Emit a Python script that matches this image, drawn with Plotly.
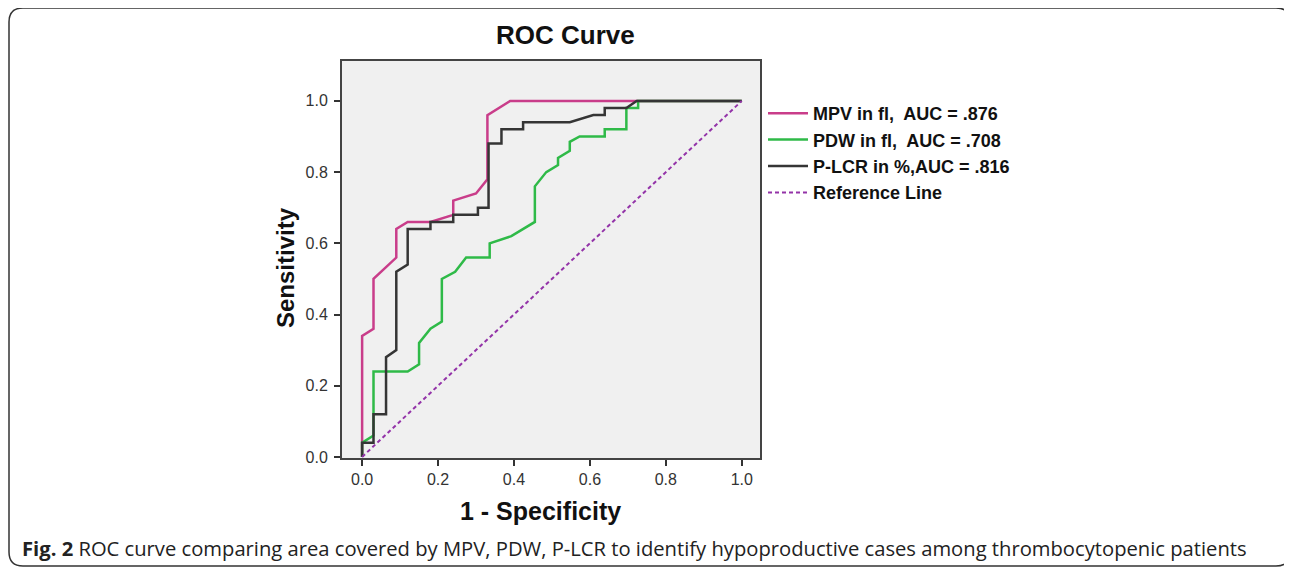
import plotly.graph_objects as go

# ---- data ----
mpv_fpr = [0, 0, 0.03, 0.03, 0.09, 0.09, 0.12, 0.18, 0.24, 0.24, 0.30, 0.33, 0.33, 0.39, 1.0]
mpv_tpr = [0, 0.34, 0.36, 0.50, 0.56, 0.64, 0.66, 0.66, 0.68, 0.72, 0.74, 0.78, 0.96, 1.0, 1.0]

pdw_fpr = [0, 0, 0.03, 0.03, 0.12, 0.15, 0.15, 0.18, 0.21, 0.21, 0.245, 0.274, 0.336, 0.336,
           0.393, 0.455, 0.455, 0.485, 0.516, 0.516, 0.547, 0.547, 0.573, 0.639, 0.639,
           0.696, 0.696, 0.727, 0.727, 1.0]
pdw_tpr = [0, 0.04, 0.06, 0.24, 0.24, 0.26, 0.32, 0.36, 0.38, 0.50, 0.52, 0.56, 0.56, 0.60,
           0.62, 0.66, 0.76, 0.80, 0.82, 0.84, 0.86, 0.885, 0.90, 0.90, 0.92,
           0.92, 0.98, 0.98, 1.0, 1.0]

plcr_fpr = [0, 0, 0.03, 0.03, 0.063, 0.063, 0.09, 0.09, 0.12, 0.12, 0.18, 0.18, 0.24, 0.24,
            0.305, 0.305, 0.333, 0.333, 0.367, 0.367, 0.424, 0.424, 0.547, 0.609, 0.639,
            0.639, 0.696, 0.723, 1.0]
plcr_tpr = [0, 0.04, 0.04, 0.12, 0.12, 0.28, 0.30, 0.52, 0.54, 0.64, 0.64, 0.66, 0.66, 0.68,
            0.68, 0.70, 0.70, 0.88, 0.88, 0.92, 0.92, 0.94, 0.94, 0.96, 0.96,
            0.98, 0.98, 1.0, 1.0]

ref_x = [0, 1]
ref_y = [0, 1]

series_names = ["MPV in fl,  AUC = .876", "PDW in fl,  AUC = .708",
                "P-LCR in %,AUC = .816", "Reference Line"]
tick_vals = [0.0, 0.2, 0.4, 0.6, 0.8, 1.0]

title_text = "ROC Curve"
x_title = "1 - Specificity"
y_title = "Sensitivity"
caption = ("<b>Fig. 2</b> ROC curve comparing area covered by MPV, PDW, P-LCR to identify "
           "hypoproductive cases among thrombocytopenic patients")

# ---- layout geometry (reference pixels; page body has an 8px margin) ----
W, H = 1292, 569
OFF = 8
L, R, T, B = 342, 760, 61, 458
FW, FH = W - OFF, H - OFF


def px(xp):
    return (xp - L) / (R - L)


def py(yp):
    return (B - yp) / (B - T)


fig = go.Figure()
fig.add_trace(go.Scatter(x=mpv_fpr, y=mpv_tpr, mode="lines", name=series_names[0],
                         line=dict(color="#C93D8A", width=2.5)))
fig.add_trace(go.Scatter(x=pdw_fpr, y=pdw_tpr, mode="lines", name=series_names[1],
                         line=dict(color="#2FBA48", width=2.5)))
fig.add_trace(go.Scatter(x=plcr_fpr, y=plcr_tpr, mode="lines", name=series_names[2],
                         line=dict(color="#353535", width=2.5)))
fig.add_trace(go.Scatter(x=ref_x, y=ref_y, mode="lines", name=series_names[3],
                         line=dict(color="#9333A8", width=2, dash="4px,3px")))

axis_common = dict(showgrid=False, zeroline=False, showline=True, mirror=True,
                   linecolor="#444444", linewidth=2, ticks="outside", ticklen=6,
                   tickwidth=1.5, tickcolor="#333333", tickvals=tick_vals,
                   tickformat=".1f",
                   tickfont=dict(family="Liberation Sans, Arial, sans-serif", size=16,
                                 color="#333333"))

fig.update_layout(
    width=FW, height=FH,
    margin=dict(l=L - OFF, r=FW - (R - OFF), t=T - OFF, b=FH - (B - OFF)),
    paper_bgcolor="white", plot_bgcolor="#F0F0F0",
    xaxis=dict(range=[-0.053, 1.048], **axis_common),
    yaxis=dict(range=[-0.003, 1.112], ticklabelstandoff=3, **axis_common),
    showlegend=True,
    legend=dict(x=px(763), y=py(95), xanchor="left", yanchor="top",
                bgcolor="rgba(0,0,0,0)", tracegroupgap=0, itemwidth=40,
                font=dict(family="Liberation Sans, Arial, sans-serif", size=18,
                          color="#111111", weight="bold")),
    font=dict(family="Liberation Sans, Arial, sans-serif"),
)

anns = [
    dict(text="<b>" + title_text + "</b>", x=px(565), y=py(35), xref="paper", yref="paper",
         xanchor="center", yanchor="middle",
         showarrow=False, font=dict(size=26, color="#111111")),
    dict(text="<b>" + x_title + "</b>", x=px(540), y=py(511), xref="paper", yref="paper",
         xanchor="center", yanchor="middle",
         showarrow=False, font=dict(size=25, color="#111111")),
    dict(text="<b>" + y_title + "</b>", x=px(285), y=py(268), xref="paper", yref="paper",
         xanchor="center", yanchor="middle",
         showarrow=False, textangle=-90, font=dict(size=24, color="#111111")),
    dict(text=caption, x=px(20), y=py(548), xref="paper", yref="paper", xanchor="left",
         yanchor="middle", showarrow=False,
         font=dict(family="Open Sans, sans-serif", size=20.2, color="#222222")),
]
fig.update_layout(annotations=anns)

# rounded outer frame
x0, x1, y0, y1, r = 9, 1290, 8, 566, 14
path = (f"M {px(x0)},{py(y0 + r)} Q {px(x0)},{py(y0)} {px(x0 + r)},{py(y0)} "
        f"L {px(x1 - r)},{py(y0)} Q {px(x1)},{py(y0)} {px(x1)},{py(y0 + r)} "
        f"L {px(x1)},{py(y1 - r)} Q {px(x1)},{py(y1)} {px(x1 - r)},{py(y1)} "
        f"L {px(x0 + r)},{py(y1)} Q {px(x0)},{py(y1)} {px(x0)},{py(y1 - r)} Z")
fig.add_shape(type="path", path=path, xref="paper", yref="paper",
              line=dict(color="#333333", width=1.5), layer="below")

fig.write_html("out.html")
